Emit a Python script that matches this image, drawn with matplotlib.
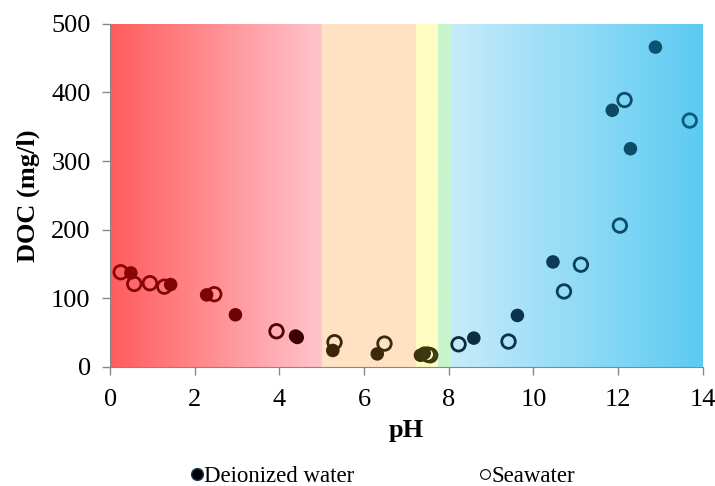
import numpy as np
import matplotlib.pyplot as plt
from matplotlib.colors import LinearSegmentedColormap
from matplotlib.lines import Line2D

# Data
di_ph = [0.49, 1.43, 2.28, 2.96, 4.38, 4.42, 5.26, 6.31, 7.33, 7.42, 8.59, 9.62,
         10.46, 11.86, 12.29, 12.88]
di_doc = [137, 120, 105, 76, 45, 43, 24, 19, 17, 20, 42, 75, 153, 374, 318, 466]

sw_ph = [0.25, 0.57, 0.94, 1.28, 2.46, 3.93, 5.30, 6.48, 7.50, 7.56, 8.23, 9.41,
         10.72, 11.12, 12.04, 12.15, 13.69]
sw_doc = [138, 121, 122, 117, 106, 52, 36, 34, 18, 17, 33, 37, 110, 149, 206,
          389, 359]

# Background pH bands: (start, end, left colour, right colour)
bands = [(0, 5.0, '#ff5c5c', '#ffc4cc'),
         (5.0, 7.23, '#ffe2c4', '#ffe2c4'),
         (7.23, 7.75, '#fffcc2', '#fffcc2'),
         (7.75, 8.08, '#c8f5cc', '#c8f5cc'),
         (8.08, 14.0, '#c6ebfa', '#5ccbf2')]

# Marker tint follows the background hue
mk_cmap = LinearSegmentedColormap.from_list(
    'mk', [(0.0, '#8c0606'), (2.5 / 14, '#7a0404'), (4.4 / 14, '#3c0202'),
           (5.0 / 14, '#3a2408'), (7.0 / 14, '#3c2c0c'), (7.7 / 14, '#3c3c12'),
           (8.1 / 14, '#0c2a3c'), (10 / 14, '#0c3650'), (1.0, '#0c5e7e')])

plt.rcParams['font.family'] = ['Liberation Serif', 'DejaVu Serif']

fig = plt.figure(figsize=(7.15, 4.86), dpi=100)
ax = fig.add_axes([0.154, 0.245, 0.829, 0.706])

for x0, x1, c0, c1 in bands:
    cm = LinearSegmentedColormap.from_list('b', [c0, c1])
    grad = np.linspace(0, 1, 256).reshape(1, -1)
    ax.imshow(grad, cmap=cm, extent=[x0, x1, 0, 500], aspect='auto',
              zorder=0, interpolation='bilinear')

ax.scatter(di_ph, di_doc, s=95, c=[mk_cmap(p / 14) for p in di_ph],
           edgecolors='none', zorder=3)
ax.scatter(sw_ph, sw_doc, s=95, facecolors='none',
           edgecolors=[mk_cmap(p / 14) for p in sw_ph], linewidths=2.0,
           zorder=4)

ax.set_xlim(0, 14)
ax.set_ylim(0, 500)
ax.set_xticks(range(0, 15, 2))
ax.set_yticks(range(0, 501, 100))
ax.tick_params(labelsize=19, color='#888888', length=6, width=1)
ax.tick_params(axis='x', pad=10)
ax.tick_params(axis='y', pad=8)
for s in ['top', 'right']:
    ax.spines[s].set_visible(False)
for s in ['left', 'bottom']:
    ax.spines[s].set_color('#888888')

ax.set_xlabel('pH', fontsize=19, fontweight='bold', labelpad=6)
ax.set_ylabel('DOC (mg/l)', fontsize=19, fontweight='bold', labelpad=8)

handles = [Line2D([], [], ls='', marker='o', ms=8.5, mfc='black', mec='#1a3a5a',
                  label='Deionized water'),
           Line2D([], [], ls='', marker='o', ms=7, mfc='white', mec='black',
                  mew=0.8, label='Seawater')]
fig.legend(handles=handles, loc='center', bbox_to_anchor=(0.534, 0.02), ncol=2,
           frameon=False, fontsize=16.5, handletextpad=-0.1, handlelength=0.8,
           columnspacing=5.3, borderpad=0)

fig.savefig('out.png', dpi=100)
